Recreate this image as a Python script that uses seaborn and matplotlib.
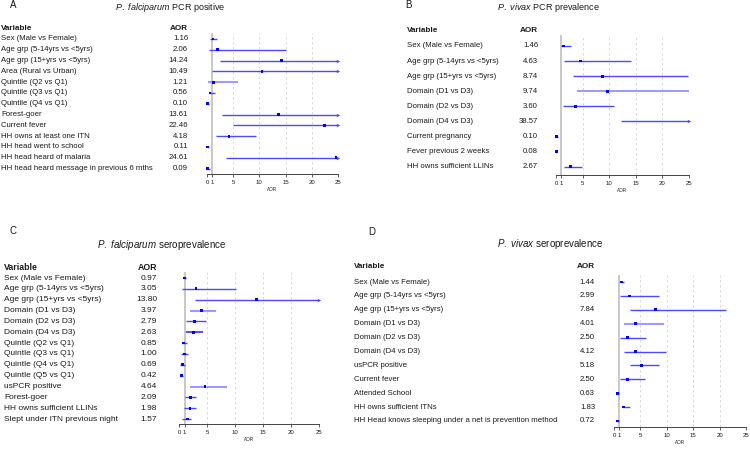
import matplotlib
matplotlib.use("Agg")
import matplotlib.pyplot as plt
import matplotlib.transforms as mtrans
import seaborn as sns
import pandas as pd

sns.set_style("white")
plt.rcParams['font.family'] = ['Liberation Sans', 'DejaVu Sans']
plt.rcParams['mathtext.fontset'] = 'custom'
plt.rcParams['mathtext.it'] = 'Liberation Sans:italic'
plt.rcParams['mathtext.rm'] = 'Liberation Sans'

# Panel A - P. falciparum PCR positive
a_vars = ["Sex (Male vs Female)", "Age grp (5-14yrs vs <5yrs)", "Age grp (15+yrs vs <5yrs)",
          "Area (Rural vs Urban)", "Quintile (Q2 vs Q1)", "Quintile (Q3 vs Q1)", "Quintile (Q4 vs Q1)",
          "Forest-goer", "Current fever", "HH owns at least one ITN", "HH head went to school",
          "HH head heard of malaria", "HH head heard message in previous 6 mths"]
a_aor = [1.16, 2.06, 14.24, 10.49, 1.21, 0.56, 0.10, 13.61, 22.46, 4.18, 0.11, 24.61, 0.09]
a_lo = [0.5, 0.3, 2.4, 0.95, 0.13, 0.3, 0.02, 2.85, 4.9, 1.8, 0.02, 3.6, 0.01]
a_hi = [1.9, 15.1, 40.0, 40.0, 6.0, 1.6, 0.4, 40.0, 40.0, 9.4, 0.4, 40.0, 0.5]

# Panel B - P. vivax PCR prevalence
b_vars = ["Sex (Male vs Female)", "Age grp (5-14yrs vs <5yrs)", "Age grp (15+yrs vs <5yrs)",
          "Domain (D1 vs D3)", "Domain (D2 vs D3)", "Domain (D4 vs D3)", "Current pregnancy",
          "Fever previous 2 weeks", "HH owns sufficient LLINs"]
b_aor = [1.46, 4.63, 8.74, 9.74, 3.60, 38.57, 0.10, 0.08, 2.67]
b_lo = [0.94, 1.56, 3.25, 3.9, 1.4, 12.2, 0.02, 0.01, 1.56]
b_hi = [2.8, 14.06, 24.8, 25.0, 10.9, 120.0, 0.4, 0.2, 4.8]

# Panel C - P. falciparum seroprevalence
c_vars = ["Sex (Male vs Female)", "Age grp (5-14yrs vs <5yrs)", "Age grp (15+yrs vs <5yrs)",
          "Domain (D1 vs D3)", "Domain (D2 vs D3)", "Domain (D4 vs D3)", "Quintle (Q2 vs Q1)",
          "Quintle (Q3 vs Q1)", "Quintle (Q4 vs Q1)", "Quintle (Q5 vs Q1)", "usPCR positive",
          "Forest-goer", "HH owns sufficient LLINs", "Slept under ITN previous night"]
c_aor = [0.97, 3.05, 13.80, 3.97, 2.79, 2.63, 0.85, 1.00, 0.69, 0.42, 4.64, 2.09, 1.98, 1.57]
c_lo = [0.8, 0.48, 2.8, 1.9, 1.2, 1.2, 0.5, 0.4, 0.2, 0.1, 2.0, 1.0, 0.85, 0.6]
c_hi = [1.2, 10.1, 40.0, 6.55, 4.76, 4.3, 1.4, 1.6, 1.0, 0.7, 8.6, 3.0, 3.1, 2.1]

# Panel D - P. vivax seroprevalence
d_vars = ["Sex (Male vs Female)", "Age grp (5-14yrs vs <5yrs)", "Age grp (15+yrs vs <5yrs)",
          "Domain (D1 vs D3)", "Domain (D2 vs D3)", "Domain (D4 vs D3)", "usPCR positive",
          "Current fever", "Attended School", "HH owns sufficient ITNs",
          "HH Head knows sleeping under a net is prevention method"]
d_aor = [1.44, 2.99, 7.84, 4.01, 2.50, 4.12, 5.18, 2.50, 0.63, 1.83, 0.72]
d_lo = [1.2, 1.07, 2.96, 1.8, 1.07, 1.8, 3.1, 1.2, 0.4, 1.5, 0.4]
d_hi = [1.8, 8.6, 21.3, 9.4, 6.0, 9.9, 8.6, 5.8, 0.9, 3.0, 1.0]

W, H = 750, 451
fig = plt.figure(figsize=(7.5, 4.51), dpi=100)
TXT = '#1a1a1a'


def ftext(x, y, s, **kw):
    fig.text(x / W, 1 - y / H, s, color=TXT, **kw)


def panel(box, first, step, names, aor, lo, hi, xlab, xaor, yhead, fs, light=(), dark=()):
    left, top, right, bottom = box
    ax = fig.add_axes([left / W, 1 - bottom / H, (right - left) / W, (bottom - top) / H])
    df = pd.DataFrame({'row': range(len(names)), 'aor': aor, 'lo': lo, 'hi': hi})
    ax.set_xlim(0, 25)
    ax.set_ylim((bottom - first) / step, (top - first) / step)
    for g in [5, 10, 15, 20, 25]:
        ax.axvline(g, color='#d4d4d4', lw=0.6, ls=(0, (3, 3)), zorder=0)
    ax.axvline(1, color='#c4c4c4', lw=1.3, zorder=0)
    for i in range(len(names)):
        if i in light:
            col, lw = '#9c9cff', 1.5
        elif i in dark:
            col, lw = '#2020e0', 1.1
        else:
            col, lw = '#4a4aff', 1.0
        x1 = min(hi[i], 25)
        ax.plot([lo[i], x1], [i, i], color=col, lw=lw, solid_capstyle='butt',
                clip_on=False, zorder=2)
        if hi[i] > 25:
            ax.plot([25], [i], marker='>', ms=2.4, color=col, mec='none', ls='none',
                    clip_on=False, zorder=3)
    pts = df[df.aor <= 25]
    sns.scatterplot(data=pts, x='aor', y='row', marker='s', s=4, color='#0000ff', edgecolor='none',
                    ax=ax, legend=False, clip_on=False, zorder=4)
    sns.despine(ax=ax, left=True)
    ax.spines['bottom'].set_color('#444444')
    ax.spines['bottom'].set_linewidth(0.7)
    ax.set_yticks([])
    ax.set_ylabel('')
    ax.set_xticks([0, 1, 5, 10, 15, 20, 25])
    ax.tick_params(axis='x', bottom=True, direction='out', length=2.5, width=0.6,
                   color='#444444', labelsize=4.3, pad=2, labelcolor=TXT)
    ax.set_xlabel('AOR', fontsize=3.3, labelpad=1.5, color=TXT)
    ax.patch.set_alpha(0)

    trans = mtrans.blended_transform_factory(fig.transFigure, ax.transData)
    for i, name in enumerate(names):
        ax.text(xlab / W, i, name, transform=trans, ha='left', va='center', fontsize=fs, color=TXT)
        ax.text(xaor / W, i, f"{aor[i]:.2f}", transform=trans, ha='right', va='center',
                fontsize=fs, color=TXT)
    ftext(xlab, yhead, 'Variable', ha='left', va='center', fontsize=fs + 0.3, fontweight='bold')
    ftext(xaor, yhead, 'AOR', ha='right', va='center', fontsize=fs + 0.3, fontweight='bold')
    return ax


panel((207, 33, 338, 174), 39, 10.8, a_vars, a_aor, a_lo, a_hi, 1, 188, 29, 5.6, light=[4])
panel((556, 35, 689, 175), 46, 15.1, b_vars, b_aor, b_lo, b_hi, 407, 538, 31, 5.6, light=[3])
panel((179, 272, 319, 424), 278, 10.85, c_vars, c_aor, c_lo, c_hi, 4, 157, 267, 6.0,
      light=[3, 10], dark=[5])
panel((614, 275, 746, 427), 282, 13.9, d_vars, d_aor, d_lo, d_hi, 354, 595, 267, 5.6, light=[3])

ftext(170, 8, r"$\it{P.\ falciparum}$ PCR positive", ha='center', va='center', fontsize=6.5)
ftext(548, 8, r"$\it{P.\ vivax}$ PCR prevalence", ha='center', va='center', fontsize=6.5)
ftext(162, 245, r"$\it{P.\ falciparum}$ seroprevalence", ha='center', va='center', fontsize=7)
ftext(550, 244, r"$\it{P.\ vivax}$ seroprevalence", ha='center', va='center', fontsize=7)

ftext(10, 5, 'A', ha='left', va='center', fontsize=7)
ftext(405, 5, 'B', ha='left', va='center', fontsize=7)
ftext(10, 231, 'C', ha='left', va='center', fontsize=7)
ftext(368, 232, 'D', ha='left', va='center', fontsize=7)

fig.savefig('out.png', dpi=100, facecolor='white')
